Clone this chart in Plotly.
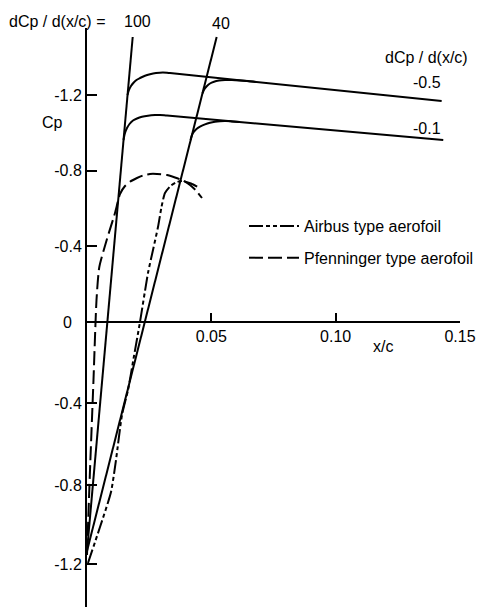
import plotly.graph_objects as go

# ---------------- data (x/c, Cp) ----------------
# reference slope lines  dCp/d(x/c) = 100 and 40
line100_x = [0.01838, 0.0]
line100_cp = [-1.508, 1.212]
line40_x = [0.05215, 0.0]
line40_cp = [-1.508, 1.212]

# dCp/d(x/c) = -0.5 family
m05a_x = [0.01628, 0.01689, 0.01769, 0.01862, 0.01990, 0.02131, 0.02332, 0.02533,
          0.02774, 0.03056, 0.03338, 0.14262]
m05a_cp = [-1.2011, -1.2275, -1.2487, -1.2646, -1.2804, -1.2910, -1.3032, -1.3111,
           -1.3175, -1.3206, -1.3169, -1.1693]
m05b_x = [0.04644, 0.04725, 0.04825, 0.04946, 0.05107, 0.05308, 0.05549, 0.05830,
          0.06152, 0.06474, 0.06795]
m05b_cp = [-1.2101, -1.2328, -1.2487, -1.2619, -1.2709, -1.2772, -1.2804, -1.2804,
           -1.2783, -1.2751, -1.2704]

# dCp/d(x/c) = -0.1 family
m01a_x = [0.01468, 0.01528, 0.01608, 0.01709, 0.01850, 0.02010, 0.02211, 0.02453,
          0.02734, 0.02935, 0.03217, 0.14327]
m01a_cp = [-0.9630, -1.0000, -1.0265, -1.0476, -1.0661, -1.0767, -1.0857, -1.0915,
           -1.0947, -1.0952, -1.0921, -0.9630]
m01b_x = [0.04162, 0.04222, 0.04302, 0.04403, 0.04544, 0.04745, 0.04946, 0.05147,
          0.05348, 0.05589, 0.05830, 0.06152]
m01b_cp = [-0.9630, -0.9894, -1.0069, -1.0212, -1.0333, -1.0460, -1.0545, -1.0598,
           -1.0624, -1.0630, -1.0610, -1.0577]

# measured aerofoils
pfen_x = [0.0, 0.00121, 0.00261, 0.00382, 0.00495, 0.00792, 0.01126, 0.01327, 0.01528,
          0.01729, 0.02010, 0.02264, 0.02533, 0.02815, 0.03217, 0.03538, 0.03860,
          0.04142, 0.04383, 0.04624]
pfen_cp = [1.2328, 0.7831, 0.3069, -0.1164, -0.2910, -0.4339, -0.5767, -0.6772, -0.7196,
           -0.7423, -0.7619, -0.7762, -0.7831, -0.7831, -0.7778, -0.7646, -0.7487,
           -0.7249, -0.6958, -0.6561]
airbus_x = [0.00040, 0.00523, 0.00965, 0.01166, 0.01407, 0.01649, 0.01890, 0.02131,
            0.02453, 0.02654, 0.02855, 0.02996, 0.03136, 0.03378, 0.03619, 0.03860,
            0.04182, 0.04544]
airbus_cp = [1.2751, 1.0847, 0.8995, 0.7302, 0.4921, 0.3598, 0.1799, 0.0, -0.2593,
             -0.3810, -0.5026, -0.6085, -0.6825, -0.7222, -0.7407, -0.7460, -0.7328,
             -0.7090]

y_tickvals = [-1.2, -0.8, -0.4, 0.4286, 0.8624, 1.2804]
y_ticktext = ["-1.2", "-0.8", "-0.4", "-0.4", "-0.8", "-1.2"]
x_tickvals = [0.05, 0.10, 0.15]
x_ticktext = ["0.05", "0.10", "0.15"]

# ---------------- figure ----------------
W, H = 485, 608
L, R, T, B = 87, 25, 28, 1
FONT = "Liberation Sans, Arial, sans-serif"
FS = 16


def P(px, py):
    return (px - L) / (W - L - R), (H - B - py) / (H - T - B)


fig = go.Figure()
solid = dict(color="black", width=2)
for xs, ys in [(line100_x, line100_cp), (line40_x, line40_cp), (m05a_x, m05a_cp),
               (m05b_x, m05b_cp), (m01a_x, m01a_cp), (m01b_x, m01b_cp)]:
    fig.add_trace(go.Scatter(x=xs, y=ys, mode="lines", line=dict(solid, shape="spline", smoothing=0.8),
                             showlegend=False, hoverinfo="skip"))

fig.add_trace(go.Scatter(x=airbus_x, y=airbus_cp, mode="lines", name="Airbus type aerofoil",
                         legendgroup="a",
                         line=dict(color="black", width=2, dash="14px,3px,4px,3px,4px,3px",
                                   shape="spline", smoothing=0.6)))
fig.add_trace(go.Scatter(x=pfen_x, y=pfen_cp, mode="lines", name="Pfenninger type aerofoil",
                         legendgroup="b",
                         line=dict(color="black", width=2, dash="14px,5px",
                                   shape="spline", smoothing=0.6)))

ann = []


def add_text(text, px, py, xanchor="center"):
    x, y = P(px, py)
    ann.append(dict(text=text, x=x, y=y, xref="paper", yref="paper", showarrow=False,
                    xanchor=xanchor, yanchor="middle", font=dict(family=FONT, size=FS, color="black")))


add_text("dCp / d(x/c) =", 7, 21, "left")
add_text("100", 137, 21)
add_text("40", 221, 24)
add_text("dCp / d(x/c)", 470, 57, "right")
add_text("-0.5", 443, 83, "right")
add_text("-0.1", 443, 128, "right")
add_text("Cp", 52, 123)
add_text("0", 67, 322)
add_text("x/c", 383, 346)

lx, ly = P(244, 209)
fig.update_layout(
    width=W, height=H,
    margin=dict(l=L, r=R, t=T, b=B, autoexpand=False),
    paper_bgcolor="white", plot_bgcolor="white",
    font=dict(family=FONT, size=FS, color="black"),
    annotations=ann,
    showlegend=True,
    legend=dict(x=lx, y=ly, xanchor="left", yanchor="top", bgcolor="rgba(0,0,0,0)",
                traceorder="grouped", tracegroupgap=8, itemwidth=50,
                font=dict(family=FONT, size=FS, color="black")),
    xaxis=dict(range=[0, 0.15], showgrid=False, zeroline=False, showline=True,
               linecolor="black", linewidth=2, anchor="free", position=285 / 579,
               ticks="inside", ticklen=8, tickwidth=2, tickcolor="black",
               tickvals=x_tickvals, ticktext=x_ticktext, tickfont=dict(size=FS)),
    yaxis=dict(range=[(H - B - 322) / 189, (T - 322) / 189], showgrid=False, zeroline=False,
               showline=True, linecolor="black", linewidth=2,
               ticks="inside", ticklen=10, tickwidth=2, tickcolor="black",
               tickvals=y_tickvals, ticktext=y_ticktext, tickfont=dict(size=FS)),
)

fig.write_html("out.html")
